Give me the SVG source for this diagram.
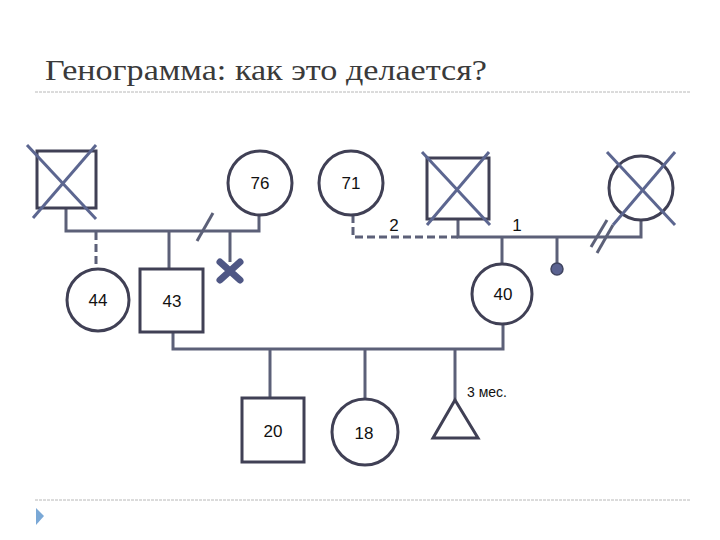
<svg xmlns="http://www.w3.org/2000/svg" width="720" height="540" viewBox="0 0 720 540">
<style>
.ln{stroke:#5c6078;stroke-width:3;fill:none;stroke-linecap:butt}
.dash{stroke:#5c6078;stroke-width:3;fill:none;stroke-dasharray:8,4}
.sh{stroke:#404055;stroke-width:3;fill:#fff}
.x{stroke:#5c6690;stroke-width:3;fill:none}
.t{font-family:"Liberation Sans","DejaVu Sans",sans-serif;font-size:17px;fill:#111;text-anchor:middle}
.rule{stroke:#b8b8b8;stroke-width:1;stroke-dasharray:3,1}
</style>
<rect width="720" height="540" fill="#fff"/>
<text x="45" y="80" font-family="Liberation Serif, DejaVu Serif, serif" font-size="30" fill="#3a3a3a" textLength="442" lengthAdjust="spacingAndGlyphs">Генограмма: как это делается?</text>
<line class="rule" x1="35" y1="92" x2="690" y2="92"/>
<line class="rule" x1="35" y1="500" x2="690" y2="500"/>
<polygon points="36,508 44,516 36,525" fill="#7aa8d6"/>
<g id="connectors">
<polyline class="ln" points="66,208 66,231 259,231 259,215"/>
<line class="dash" x1="96" y1="232" x2="96" y2="269"/>
<line class="ln" x1="169" y1="231" x2="169" y2="269"/>
<line class="ln" x1="230" y1="231" x2="230" y2="262"/>
<line class="ln" x1="213" y1="213" x2="197" y2="241"/>
<polyline class="dash" points="353,215 353,237 458,237"/>
<polyline class="ln" points="458,219 458,237 641,237 641,220"/>
<line class="ln" x1="502" y1="237" x2="502" y2="264"/>
<line class="ln" x1="557" y1="237" x2="557" y2="264"/>
<line class="ln" x1="607" y1="220" x2="591" y2="247"/>
<line class="ln" x1="613" y1="225" x2="597" y2="253"/>
<polyline class="ln" points="173,332 173,349 503,349 503,325"/>
<line class="ln" x1="270" y1="349" x2="270" y2="398"/>
<line class="ln" x1="365" y1="349" x2="365" y2="398"/>
<line class="ln" x1="455" y1="349" x2="455" y2="400"/>
</g>
<g id="gf-paternal">
<rect class="sh" x="37" y="151" width="59" height="57"/>
<line class="x" x1="27" y1="145" x2="96" y2="219"/>
<line class="x" x1="96" y1="145" x2="33" y2="218"/>
</g>
<g id="gm-76">
<circle class="sh" cx="260" cy="183" r="32"/>
<text class="t" x="260" y="189">76</text>
</g>
<g id="w-71">
<circle class="sh" cx="351" cy="183" r="32"/>
<text class="t" x="351" y="189">71</text>
</g>
<g id="gf-maternal">
<rect class="sh" x="427" y="158" width="62" height="61"/>
<line class="x" x1="422" y1="152" x2="490" y2="225"/>
<line class="x" x1="489" y1="152" x2="427" y2="225"/>
</g>
<g id="gm-maternal">
<circle class="sh" cx="641" cy="188" r="32"/>
<line class="x" x1="607" y1="152" x2="675" y2="225"/>
<line class="x" x1="675" y1="152" x2="613" y2="225"/>
</g>
<text class="t" x="394" y="231" font-size="16">2</text>
<text class="t" x="517" y="231" font-size="16">1</text>
<g id="n-44">
<circle class="sh" cx="98" cy="300" r="31"/>
<text class="t" x="98" y="306">44</text>
</g>
<g id="n-43">
<rect class="sh" x="140" y="269" width="63" height="63"/>
<text class="t" x="172" y="307">43</text>
</g>
<g id="miscarriage">
<path d="M220,262 L240,280 M240,262 L220,280" stroke="#4f5785" stroke-width="7" stroke-linecap="round"/>
</g>
<g id="n-40">
<circle class="sh" cx="502" cy="294" r="30"/>
<text class="t" x="503" y="300">40</text>
</g>
<g id="dot">
<circle cx="557" cy="269" r="6" fill="#5a6290" stroke="#404560" stroke-width="1.5"/>
</g>
<g id="n-20">
<rect class="sh" x="242" y="398" width="62" height="64"/>
<text class="t" x="273" y="437">20</text>
</g>
<g id="n-18">
<circle class="sh" cx="365" cy="432" r="33"/>
<text class="t" x="364" y="439">18</text>
</g>
<g id="baby">
<polygon class="sh" points="455,400 478,438 433,438"/>
<text x="467" y="397" font-family="Liberation Sans, DejaVu Sans, sans-serif" font-size="14" fill="#111">3 мес.</text>
</g>
</svg>
